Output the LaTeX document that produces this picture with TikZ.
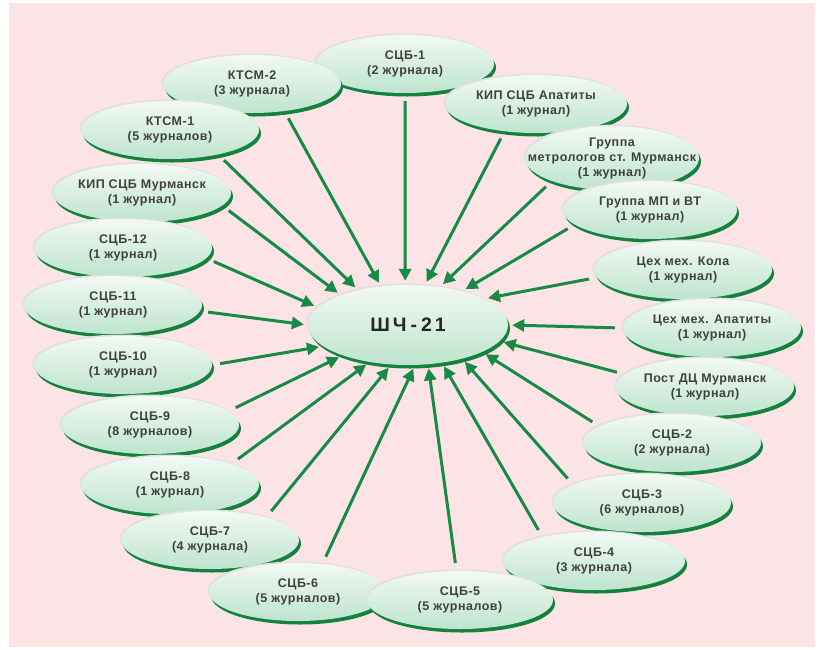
\documentclass[tikz,border=0pt]{standalone}
\usepackage{fontspec}
\setmainfont{Liberation Sans}
\newfontfamily\spreadfont[LetterSpace=4]{Liberation Sans}
\usetikzlibrary{shapes.geometric,shadows,arrows.meta}
\definecolor{blush}{HTML}{FCE3E5}
\definecolor{mintlight}{HTML}{F2F9F3}
\definecolor{mintdeep}{HTML}{BEE4CE}
\definecolor{rimgreen}{HTML}{12823C}
\definecolor{flowgreen}{HTML}{178A46}
\colorlet{inkgray}{black!75}
\newcommand{\twolines}[1]{\makebox[0pt]{\begin{tabular}{@{}c@{}}#1\end{tabular}}}
\tikzset{
  unit/.style={ellipse, minimum width=178pt, minimum height=58pt, inner sep=0pt,
    top color=mintlight, bottom color=mintdeep,
    general shadow={fill=black!12, shadow xshift=-1.5pt, shadow yshift=1.5pt},
    drop shadow={fill=rimgreen, opacity=1, shadow xshift=2pt, shadow yshift=-3.5pt},
    font=\spreadfont\fontsize{12.5}{15}\selectfont\bfseries, text=inkgray},
  hubnode/.style={unit, minimum width=200pt, minimum height=80pt,
    font=\fontsize{19.5}{22}\selectfont\bfseries, text=black!85},
  flow/.style={flowgreen, line width=3pt, -{Triangle[length=12pt,width=12pt]},
    shorten <=8pt, shorten >=4pt}
}

\begin{document}
\begin{tikzpicture}[x=1pt,y=-1pt]
  \useasboundingbox (0,0) rectangle (822,649);
  \fill[blush] (9,3) rectangle (815,647);
\node[hubnode] (hub) at (408,325) {Ш\kern3ptЧ\kern4pt-\kern4pt2\kern3pt1};
\node[unit] (s1) at (405,64) {\twolines{СЦБ-1\\(2 журнала)}};
\node[unit] (ktsm2) at (252,84) {\twolines{КТСМ-2\\(3 журнала)}};
\node[unit, minimum width=182pt] (kipap) at (536,104) {\twolines{КИП СЦБ Апатиты\\(1 журнал)}};
\node[unit] (ktsm1) at (170,130) {\twolines{КТСМ-1\\(5 журналов)}};
\node[unit, minimum width=174pt, minimum height=62pt] (metr) at (612,158) {\twolines{Группа\\метрологов ст. Мурманск\\(1 журнал)}};
\node[unit] (kipmur) at (142,193) {\twolines{КИП СЦБ Мурманск\\(1 журнал)}};
\node[unit, minimum width=174pt] (mpvt) at (650,210) {\twolines{Группа МП и ВТ\\(1 журнал)}};
\node[unit] (s12) at (123,248) {\twolines{СЦБ-12\\(1 журнал)}};
\node[unit] (kola) at (683,270) {\twolines{Цех мех. Кола\\(1 журнал)}};
\node[unit] (s11) at (113,305) {\twolines{СЦБ-11\\(1 журнал)}};
\node[unit] (ap) at (712,328) {\twolines{Цех мех. Апатиты\\(1 журнал)}};
\node[unit] (s10) at (123,365) {\twolines{СЦБ-10\\(1 журнал)}};
\node[unit] (post) at (705,387) {\twolines{Пост ДЦ Мурманск\\(1 журнал)}};
\node[unit] (s9) at (150,425) {\twolines{СЦБ-9\\(8 журналов)}};
\node[unit] (s2) at (672,443) {\twolines{СЦБ-2\\(2 журнала)}};
\node[unit] (s8) at (170,485) {\twolines{СЦБ-8\\(1 журнал)}};
\node[unit] (s3) at (642,503) {\twolines{СЦБ-3\\(6 журналов)}};
\node[unit] (s7) at (210,540) {\twolines{СЦБ-7\\(4 журнала)}};
\node[unit, minimum width=182pt] (s4) at (594,561) {\twolines{СЦБ-4\\(3 журнала)}};
\node[unit] (s6) at (298,592) {\twolines{СЦБ-6\\(5 журналов)}};
\node[unit, minimum width=186pt] (s5) at (460,600) {\twolines{СЦБ-5\\(5 журналов)}};
\draw[flow] (s1.270) -- (hub.94);
\draw[flow] (ktsm2.-40) -- (hub.125);
\draw[flow] (kipap.221) -- (hub.67);
\draw[flow] (ktsm1.-27) -- (hub.145);
\draw[flow] (metr.201) -- (hub.50);
\draw[flow] (kipmur.-9) -- (hub.156);
\draw[flow] (mpvt.191) -- (hub.32);
\draw[flow] (s12.-7) -- (hub.169);
\draw[flow] (kola.185) -- (hub.19);
\draw[flow] (s11.-4) -- (hub.180);
\draw[flow] (ap.180) -- (hub.0);
\draw[flow] (s10.0) -- (hub.194);
\draw[flow] (post.171) -- (hub.-10);
\draw[flow] (s9.10) -- (hub.205);
\draw[flow] (s2.167) -- (hub.-20);
\draw[flow] (s8.19) -- (hub.224);
\draw[flow] (s3.165) -- (hub.-32);
\draw[flow] (s7.22) -- (hub.247);
\draw[flow] (s4.155) -- (hub.-48);
\draw[flow] (s6.49) -- (hub.-80);
\draw[flow] (s5.97) -- (hub.-63);
\end{tikzpicture}
\end{document}
